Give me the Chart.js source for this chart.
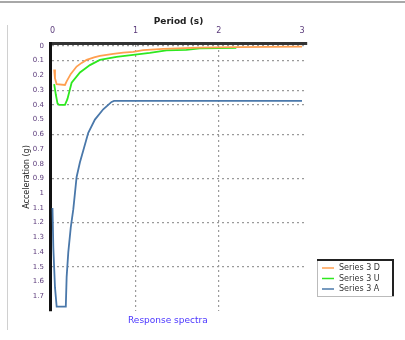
<!DOCTYPE html>
<html>
<head>
<meta charset="utf-8">
<script src="https://cdn.jsdelivr.net/npm/chart.js@4"></script>
<style>
  html, body { margin: 0; padding: 0; background: #fff; }
  #wrap { position: relative; width: 405px; height: 340px; }
  #topline { position: absolute; left: 0; top: 1px; width: 405px; height: 2px; background: #a8a8a8; }
  #sideline { position: absolute; left: 7px; top: 25px; width: 1px; height: 305px; background: #d0d0d0; }
  #caption { position: absolute; left: 128px; top: 315px; font: 9px "DejaVu Sans", sans-serif; color: #4a35ff; }
</style>
</head>
<body>
<div id="wrap">
  <canvas id="chart" width="405" height="340"></canvas>
  <div id="topline"></div>
  <div id="sideline"></div>
  <div id="caption">Response spectra</div>
</div>
<script>
// tick values
const xTicks = [0, 1, 2, 3];
const yTicks = [0, 0.1, 0.2, 0.3, 0.4, 0.5, 0.6, 0.7, 0.8, 0.9, 1, 1.1, 1.2, 1.3, 1.4, 1.5, 1.6, 1.7];
const yGridAt = [0, 0.1, 0.3, 0.4, 0.6, 0.9, 1.2, 1.5];
const xGridAt = [1, 2];

const seriesNames = ["Series 3 D", "Series 3 U", "Series 3 A"];

// series 1 (orange)
const orangeX = [0.02, 0.03, 0.05, 0.15, 0.17, 0.22, 0.29, 0.35, 0.41, 0.5, 0.57, 0.73, 0.85, 0.97, 1.09, 1.33, 1.77, 2.2, 2.6, 3.0];
const orangeY = [0.16, 0.22, 0.26, 0.265, 0.24, 0.19, 0.14, 0.115, 0.095, 0.078, 0.068, 0.054, 0.046, 0.04, 0.028, 0.02, 0.012, 0.008, 0.006, 0.005];

// series 2 (green)
const greenX = [0.02, 0.04, 0.06, 0.08, 0.15, 0.18, 0.23, 0.33, 0.45, 0.57, 0.77, 0.97, 1.17, 1.37, 1.61, 1.77, 2.0, 2.21];
const greenY = [0.26, 0.33, 0.39, 0.40, 0.40, 0.36, 0.25, 0.18, 0.13, 0.095, 0.074, 0.061, 0.047, 0.03, 0.027, 0.016, 0.014, 0.013];

// series 3 (blue)
const blueX = [0.0, 0.01, 0.03, 0.05, 0.16, 0.17, 0.19, 0.22, 0.25, 0.27, 0.29, 0.33, 0.37, 0.43, 0.51, 0.61, 0.71, 0.74, 3.0];
const blueY = [1.10, 1.37, 1.64, 1.77, 1.77, 1.57, 1.40, 1.23, 1.11, 1.0, 0.89, 0.79, 0.71, 0.59, 0.50, 0.43, 0.38, 0.373, 0.373];

const colors = ["#ff9f4f", "#2ee81f", "#4a78aa"];

function pts(xs, ys) {
    return xs.map((x, i) => ({ x: x, y: ys[i] }));
}

const near = (arr, v) => arr.some(a => Math.abs(a - v) < 1e-6);

// legend drawn by hand in the lower right corner
const boxLegend = {
    id: "boxLegend",
    afterDraw(chart) {
        const ctx = chart.ctx;
        const x0 = 317, y0 = 260, w = 76, h = 36;
        ctx.save();
        ctx.fillStyle = "#fff";
        ctx.fillRect(x0, y0, w, h);
        ctx.strokeStyle = "#bbb";
        ctx.lineWidth = 1;
        ctx.strokeRect(x0 + 0.5, y0 + 0.5, w, h);
        ctx.strokeStyle = "#222";
        ctx.lineWidth = 2;
        ctx.beginPath();
        ctx.moveTo(x0, y0);
        ctx.lineTo(x0 + w, y0);
        ctx.lineTo(x0 + w, y0 + h);
        ctx.stroke();
        ctx.font = "8px 'DejaVu Sans', sans-serif";
        ctx.textBaseline = "middle";
        chart.data.datasets.forEach((ds, i) => {
            const yy = y0 + 8 + i * 10.5;
            ctx.strokeStyle = ds.borderColor;
            ctx.lineWidth = 1.5;
            ctx.beginPath();
            ctx.moveTo(x0 + 5, yy);
            ctx.lineTo(x0 + 17, yy);
            ctx.stroke();
            ctx.fillStyle = "#333";
            ctx.fillText(ds.label, x0 + 22, yy);
        });
        ctx.restore();
    }
};

new Chart(document.getElementById("chart"), {
    type: "line",
    data: {
        datasets: [
            { label: seriesNames[0], data: pts(orangeX, orangeY), borderColor: colors[0] },
            { label: seriesNames[1], data: pts(greenX, greenY), borderColor: colors[1] },
            { label: seriesNames[2], data: pts(blueX, blueY), borderColor: colors[2] }
        ]
    },
    options: {
        responsive: false,
        animation: false,
        layout: { padding: { left: 18, top: 12, right: 98, bottom: 29 } },
        elements: {
            line: { borderWidth: 1.8, tension: 0 },
            point: { radius: 0 }
        },
        plugins: {
            legend: { display: false },
            tooltip: { enabled: false }
        },
        scales: {
            x: {
                type: "linear",
                position: "top",
                min: -0.03,
                max: 3.06,
                afterBuildTicks: s => { s.ticks = xTicks.map(v => ({ value: v })); },
                afterFit: s => { s.height = 31; },
                border: { color: "#333", width: 3, dash: [2, 3] },
                grid: {
                    drawTicks: false,
                    lineWidth: 1.2,
                    color: c => (c.tick && near(xGridAt, c.tick.value)) ? "#9a9a9a" : "transparent"
                },
                ticks: {
                    padding: 7,
                    color: "#5a3a7a",
                    font: { family: "DejaVu Sans", size: 8 }
                },
                title: {
                    display: true,
                    text: "Period (s)",
                    color: "#222",
                    padding: { top: 4, bottom: 2 },
                    font: { family: "DejaVu Sans", size: 9, weight: "bold" }
                }
            },
            y: {
                type: "linear",
                reverse: true,
                min: -0.02,
                max: 1.80,
                afterBuildTicks: s => { s.ticks = yTicks.map(v => ({ value: v })); },
                afterFit: s => { s.width = 32; },
                border: { color: "#111", width: 3, dash: [2, 3] },
                grid: {
                    drawTicks: false,
                    lineWidth: 1.2,
                    color: c => (c.tick && near(yGridAt, c.tick.value)) ? "#9a9a9a" : "transparent"
                },
                ticks: {
                    padding: 6,
                    color: "#5a3a7a",
                    font: { family: "DejaVu Sans", size: 7 },
                    callback: v => String(Math.round(v * 10) / 10)
                },
                title: {
                    display: true,
                    text: "Acceleration (g)",
                    color: "#222",
                    padding: { top: 4, bottom: 2 },
                    font: { family: "DejaVu Sans", size: 8 }
                }
            }
        }
    },
    plugins: [boxLegend]
});
</script>
</body>
</html>
